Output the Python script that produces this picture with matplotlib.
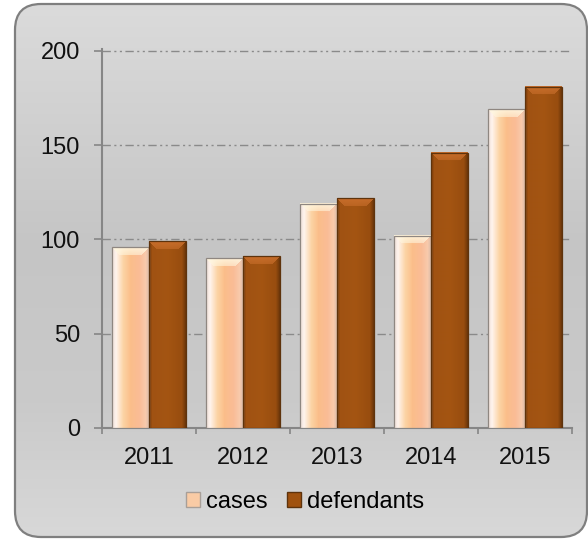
import numpy as np
import matplotlib.pyplot as plt
from matplotlib.patches import FancyBboxPatch, Patch

years = ["2011", "2012", "2013", "2014", "2015"]
cases = [96, 90, 119, 102, 169]
defendants = [99, 91, 122, 146, 181]
y_ticks = [0, 50, 100, 150, 200]

plt.rcParams['font.family'] = ['Liberation Sans Narrow', 'Liberation Sans', 'DejaVu Sans']
FS = 17

W, H = 588, 539
fig = plt.figure(figsize=(W / 100, H / 100), dpi=100)
fig.patch.set_facecolor('white')

# rounded grey panel with a soft vertical gradient
bg = fig.add_axes([0, 0, 1, 1], zorder=-1)
bg.set_xlim(0, W)
bg.set_ylim(H, 0)
bg.axis('off')
panel = FancyBboxPatch((15, 4), 572, 533, boxstyle="round,pad=0,rounding_size=26",
                       facecolor='none', edgecolor='#7f7f7f', lw=1.6, zorder=2)
bg.add_patch(panel)
rows = np.linspace(0, 1, 300)
shade = np.interp(rows, [0, 0.45, 0.75, 1], [219, 197, 202, 216]) / 255
grad = np.repeat(shade[:, None], 2, axis=1)
im = bg.imshow(np.dstack([grad] * 3), extent=(15, 587, 537, 4), aspect='auto',
               interpolation='bilinear', zorder=1)
im.set_clip_path(panel)

ax = fig.add_axes([102 / W, 1 - 428 / H, 470 / W, (428 - 49.1) / H])
ax.patch.set_alpha(0)
ax.set_xlim(-0.5, 4.5)
ax.set_ylim(0, 201)

x = np.arange(len(years))
w = 0.39
b1 = ax.bar(x - w / 2, cases, w, color='#f9cba5', zorder=2)
b2 = ax.bar(x + w / 2, defendants, w, color='#a0520f', zorder=2)


def bar_image(wpx, hpx, pos, colors, top_col, bevel=8):
    cols = np.linspace(0, 1, wpx)
    colors = np.array(colors, dtype=float)
    base = np.stack([np.interp(cols, pos, colors[:, k]) for k in range(3)], -1)
    img = np.repeat(base[None], hpx, axis=0)
    for r in range(min(bevel, hpx)):
        a = 0.9 - 0.35 * r / bevel
        img[r, r:wpx - r] = img[r, r:wpx - r] * (1 - a) + np.array(top_col) * a
    return np.clip(img / 255, 0, 1)


light_pos = [0, 0.1, 0.3, 0.5, 0.75, 0.92, 1]
light_cols = [(238, 222, 215), (255, 244, 238), (252, 212, 165), (251, 190, 138),
              (250, 188, 150), (248, 202, 172), (225, 190, 170)]
dark_pos = [0, 0.08, 0.5, 0.9, 1]
dark_cols = [(125, 62, 10), (160, 82, 18), (164, 85, 18), (152, 77, 15), (110, 55, 10)]

for bars, pos, cols, top in [(b1, light_pos, light_cols, (255, 246, 222)),
                             (b2, dark_pos, dark_cols, (203, 112, 45))]:
    for p in bars:
        x0, y0 = ax.transData.transform((p.get_x(), 0))
        x1, y1 = ax.transData.transform((p.get_x() + p.get_width(), p.get_height()))
        img = bar_image(max(int(round(x1 - x0)), 2), max(int(round(y1 - y0)), 2), pos, cols, top)
        ax.imshow(img, extent=(p.get_x(), p.get_x() + p.get_width(), 0, p.get_height()),
                  aspect='auto', interpolation='bilinear', origin='upper', zorder=3)

ax.bar(x - w / 2, cases, w, fill=False, edgecolor='#8f8781', lw=0.9, zorder=4)
ax.bar(x + w / 2, defendants, w, fill=False, edgecolor='#5e330c', lw=0.9, zorder=4)
ax.set_xlim(-0.5, 4.5)
ax.set_ylim(0, 201)

ax.set_yticks(y_ticks)
ax.yaxis.grid(True, color='#8a8a8a', lw=1.0, linestyle=(0, (6, 2.5, 1.5, 2.5, 1.5, 2.5)))
ax.set_axisbelow(True)

ax.set_xticks(x, years)
ax.set_xticks(np.arange(-0.5, 5, 1), minor=True)
ax.tick_params(axis='x', which='major', length=0, pad=14, labelsize=FS, labelcolor='#111111')
ax.tick_params(axis='x', which='minor', length=4.5, width=1.2, color='#868686')
ax.tick_params(axis='y', length=5.8, width=1.2, color='#868686', pad=10,
               labelsize=FS, labelcolor='#111111')

for s in ['top', 'right']:
    ax.spines[s].set_visible(False)
for s in ['left', 'bottom']:
    ax.spines[s].set_color('#868686')
    ax.spines[s].set_linewidth(1.5)

handles = [Patch(facecolor='#f9cba5', edgecolor='#a89f98'),
           Patch(facecolor='#a0520f', edgecolor='#5e330c')]
fig.legend(handles, ['cases', 'defendants'], loc='center', bbox_to_anchor=(305 / W, 1 - 502 / H),
           ncol=2, frameon=False, fontsize=FS, handlelength=0.6, handleheight=0.6,
           handletextpad=0.25, columnspacing=0.8)

fig.savefig('out.png', dpi=100)
